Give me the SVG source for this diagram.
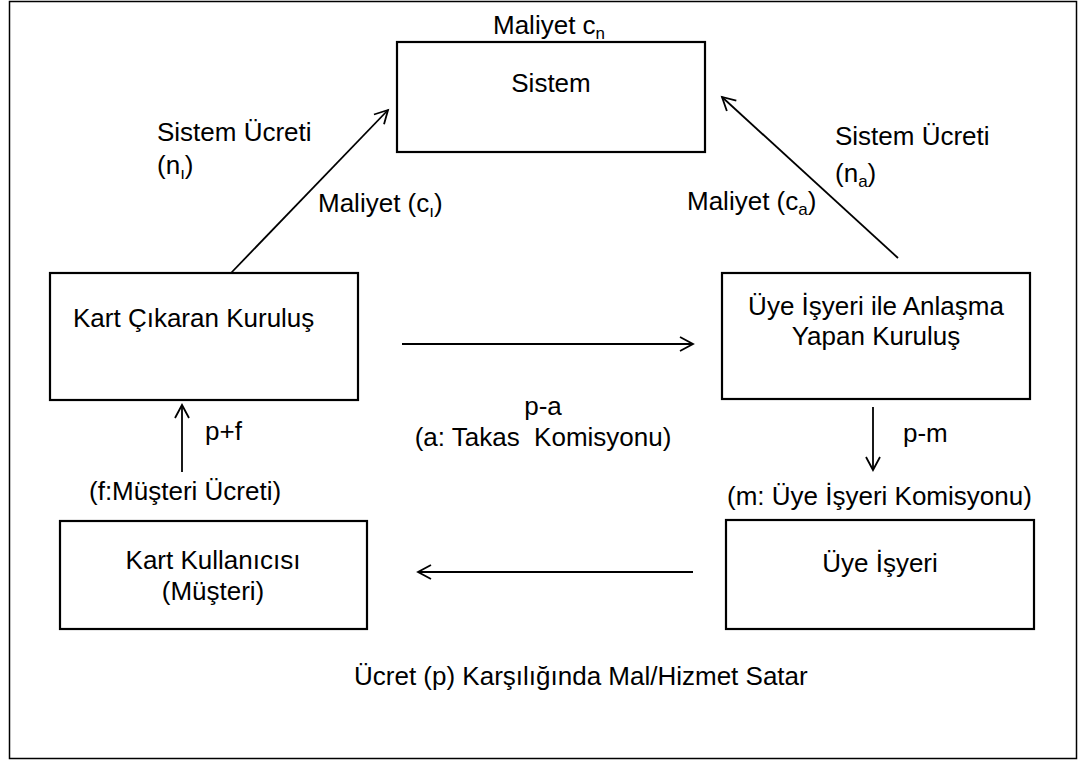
<svg xmlns="http://www.w3.org/2000/svg" width="1079" height="761" viewBox="0 0 1079 761">
<defs>
<marker id="arr" markerUnits="userSpaceOnUse" markerWidth="20" markerHeight="20" refX="14" refY="8" orient="auto" viewBox="0 0 20 16">
<path d="M1,1 L14,8 L1,15" fill="none" stroke="#000" stroke-width="1.8"/>
</marker>
</defs>
<style>
.box{fill:#fff;stroke:#000;stroke-width:2.2}
.t{font-family:"Liberation Sans",Arial,sans-serif;font-size:26px;fill:#000}
.c{text-anchor:middle}
.sub{font-size:17px}
.ln{stroke:#000;stroke-width:1.8;fill:none;marker-end:url(#arr)}
</style>
<rect x="0" y="0" width="1079" height="761" fill="#fff"/>
<rect x="9.5" y="1.5" width="1067" height="757" fill="none" stroke="#000" stroke-width="1.5"/>

<g id="sistem">
<rect class="box" x="397" y="42" width="308" height="110"/>
<text class="t c" x="551" y="92">Sistem</text>
<text class="t" x="493" y="34">Maliyet c<tspan class="sub" dy="5">n</tspan></text>
</g>

<g id="kart-cikaran">
<rect class="box" x="50" y="273" width="308" height="127"/>
<text class="t" x="73" y="327">Kart Çıkaran Kuruluş</text>
</g>

<g id="uye-anlasma">
<rect class="box" x="722" y="273" width="308" height="126"/>
<text class="t c" x="876" y="315">Üye İşyeri ile Anlaşma</text>
<text class="t c" x="876" y="345">Yapan Kuruluş</text>
</g>

<g id="kart-kullanici">
<rect class="box" x="60" y="521" width="307" height="108"/>
<text class="t c" x="213" y="569">Kart Kullanıcısı</text>
<text class="t c" x="213" y="600">(Müşteri)</text>
</g>

<g id="uye-isyeri">
<rect class="box" x="726" y="520" width="308" height="109"/>
<text class="t c" x="880" y="572">Üye İşyeri</text>
</g>

<g id="connectors">
<line class="ln" x1="231" y1="273" x2="388" y2="110"/>
<line class="ln" x1="898" y1="258" x2="722" y2="97"/>
<line class="ln" x1="402" y1="344" x2="693" y2="344"/>
<line class="ln" x1="182" y1="472" x2="182" y2="405"/>
<line class="ln" x1="873" y1="407" x2="873" y2="470"/>
<line class="ln" x1="693" y1="572" x2="418" y2="572"/>
</g>

<g id="labels">
<text class="t" x="157" y="141">Sistem Ücreti</text>
<text class="t" x="157" y="174">(n<tspan class="sub" dy="5">ı</tspan><tspan dy="-5">)</tspan></text>
<text class="t" x="318" y="212">Maliyet (c<tspan class="sub" dy="5">ı</tspan><tspan dy="-5">)</tspan></text>
<text class="t" x="835" y="145">Sistem Ücreti</text>
<text class="t" x="835" y="182">(n<tspan class="sub" dy="5">a</tspan><tspan dy="-5">)</tspan></text>
<text class="t" x="687" y="210">Maliyet (c<tspan class="sub" dy="5">a</tspan><tspan dy="-5">)</tspan></text>
<text class="t c" x="543" y="415">p-a</text>
<text class="t c" x="543" y="446" xml:space="preserve">(a: Takas  Komisyonu)</text>
<text class="t" x="205" y="440">p+f</text>
<text class="t" x="89" y="500">(f:Müşteri Ücreti)</text>
<text class="t" x="903" y="442">p-m</text>
<text class="t" x="727" y="505">(m: Üye İşyeri Komisyonu)</text>
<text class="t" x="354" y="685">Ücret (p) Karşılığında Mal/Hizmet Satar</text>
</g>
</svg>
